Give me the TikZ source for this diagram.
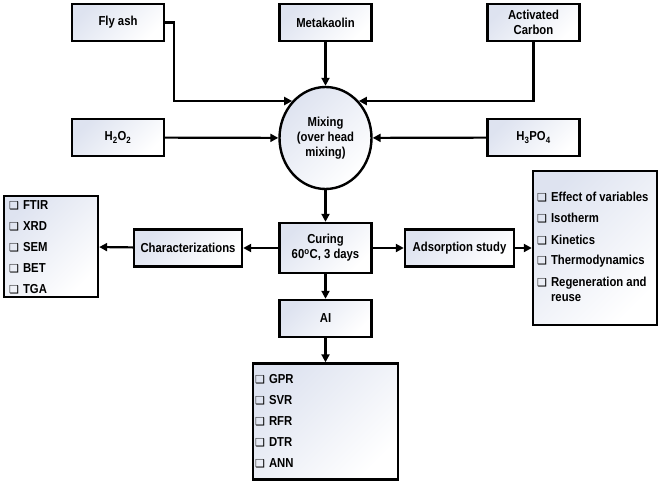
\documentclass[tikz,border=0pt]{standalone}
\usepackage{fontspec}
\setmainfont{Liberation Sans}[FakeStretch=0.87]
\newfontfamily\symfont{DejaVu Sans}
\usetikzlibrary{shapes.geometric,arrows.meta}

\definecolor{boxtint}{RGB}{222,227,240}
\newcommand{\chk}{{\symfont\fontsize{11}{11}\selectfont ❑}\hspace{4pt}}

\tikzset{
  stage/.style={draw,line width=2.4pt,top color=boxtint,bottom color=white,shading angle=45,
    minimum width=92pt,minimum height=37pt,inner sep=0pt,align=center},
  listbox/.style={draw,line width=2.4pt,top color=boxtint,bottom color=white,shading angle=45,inner sep=0pt},
  item/.style={anchor=west,inner sep=0pt,align=left},
  flow/.style={line width=2.2pt,-{Triangle[length=8pt,width=8pt]}}
}

\begin{document}
\begin{tikzpicture}[x=1pt,y=-1pt,font=\fontsize{13}{15}\selectfont\bfseries]
\useasboundingbox (0,0) rectangle (661,483);
% inputs
\node[stage] (flyash) at (118,22.5) {Fly ash};
\node[stage] (metakaolin) at (325.5,22.5) {Metakaolin};
\node[stage] (carbon) at (533.5,22.5) {Activated\\Carbon};
\node[stage] (hperox) at (118,137.5) {H\textsubscript{2}O\textsubscript{2}};
\node[stage] (hphos) at (533.5,137.5) {H\textsubscript{3}PO\textsubscript{4}};
\node[stage,ellipse,minimum width=92pt,minimum height=102pt] (mixing) at (325.5,138) {Mixing\\(over head\\mixing)};
% middle row
\node[stage,minimum height=50pt] (curing) at (325.5,248) {Curing\\60\textsuperscript{o}C, 3 days};
\node[stage,minimum width=108pt] (charact) at (188,248) {Characterizations};
\node[stage,minimum width=109pt] (adsorb) at (459.5,248) {Adsorption study};
\node[stage] (ai) at (325.5,318.5) {AI};
% lists
\node[listbox,minimum width=94pt,minimum height=101pt] (charlist) at (51,246.5) {};
\node[listbox,minimum width=124pt,minimum height=154pt] (adslist) at (595,248) {};
\node[listbox,minimum width=145pt,minimum height=116pt] (ailist) at (325.5,421.5) {};
\foreach \t [count=\i] in {FTIR,XRD,SEM,BET,TGA}
  \node[item] (char\i) at (9,184+21*\i) {\chk\t};
\foreach \t [count=\i] in {Effect of variables,Isotherm,Kinetics,Thermodynamics}
  \node[item] (ads\i) at (537,176+21.2*\i) {\chk\t};
\node[item] (ads5) at (537,289.6) {\chk Regeneration and\\\phantom{\chk}reuse};
\foreach \t [count=\i] in {GPR,SVR,RFR,DTR,ANN}
  \node[item] (ai\i) at (255,358+21*\i) {\chk\t};
% connectors
\draw[flow] (flyash.east) -- ++(9,0) |- (mixing.132);
\draw[flow] (metakaolin) -- (mixing);
\draw[flow] (carbon.south) |- (mixing.48);
\draw[flow] (hperox) -- (mixing);
\draw[flow] (hphos) -- (mixing);
\draw[flow] (mixing) -- (curing);
\draw[flow] (curing) -- (charact);
\draw[flow] (charact) -- (charlist);
\draw[flow] (curing) -- (adsorb);
\draw[flow] (adsorb) -- (adslist);
\draw[flow] (curing) -- (ai);
\draw[flow] (ai) -- (ailist);
\end{tikzpicture}
\end{document}
